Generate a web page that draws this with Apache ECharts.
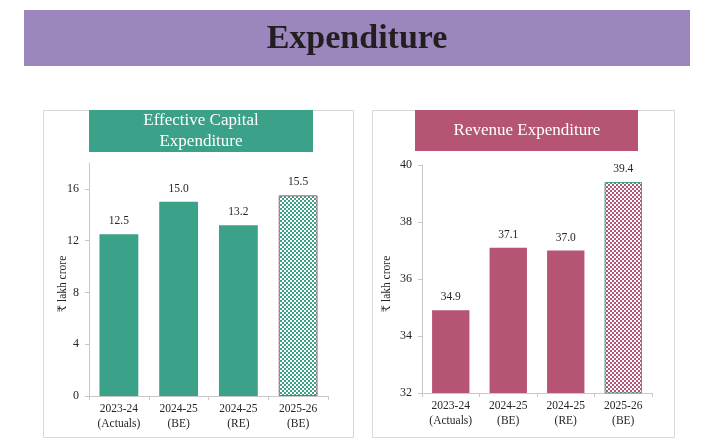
<!DOCTYPE html>
<html>
<head>
<meta charset="utf-8">
<script src="https://cdn.jsdelivr.net/npm/echarts@6/dist/echarts.min.js"></script>
<style>
html,body{margin:0;padding:0;background:#fff;}
#c{width:715px;height:448px;}
</style>
</head>
<body>
<div id="c"></div>
<script>
// ---- data ----
const categories = ['2023-24\n(Actuals)', '2024-25\n(BE)', '2024-25\n(RE)', '2025-26\n(BE)'];
const capexValues = [12.5, 15.0, 13.2, 15.5];
const revexValues = [34.9, 37.1, 37.0, 39.4];
const capexTicks = [0, 4, 8, 12, 16];
const revexTicks = [32, 34, 36, 38, 40];
const mainTitle = 'Expenditure';
const capexTitle = 'Effective Capital\nExpenditure';
const revexTitle = 'Revenue Expenditure';
const yName = '₹ lakh crore';

// ---- styles ----
const GREEN = '#3BA189';
const PINK = '#B55473';
const PURPLE = '#9B87BE';
const FONT = '"Liberation Serif", "DejaVu Serif", serif';
const TXT = '#262626';
const AXIS = '#C8C8C8';

function checker(c) {
  const cv = document.createElement('canvas');
  cv.width = 4; cv.height = 4;
  const ctx = cv.getContext('2d');
  ctx.fillStyle = '#ffffff';
  ctx.fillRect(0, 0, 4, 4);
  ctx.fillStyle = c;
  ctx.fillRect(0, 0, 2, 2);
  ctx.fillRect(2, 2, 2, 2);
  return cv;
}

function seriesData(values, color, altBorder) {
  return values.map((v, i) => {
    if (i === values.length - 1) {
      return {
        value: v,
        itemStyle: {
          color: { image: checker(color), repeat: 'repeat' },
          borderColor: altBorder, borderWidth: 1
        }
      };
    }
    return { value: v, itemStyle: { color: color } };
  });
}

function xAxis(gi) {
  return {
    type: 'category', gridIndex: gi, data: categories,
    axisLine: { lineStyle: { color: AXIS } },
    axisTick: { show: true, length: 4, lineStyle: { color: AXIS } },
    axisLabel: { interval: 0, color: TXT, fontFamily: FONT, fontSize: 11.5, lineHeight: 14.5, margin: 6 }
  };
}
function yAxis(gi, min, max, ticks) {
  return {
    type: 'value', gridIndex: gi, min: min, max: max,
    splitLine: { show: false },
    axisLine: { show: true, lineStyle: { color: AXIS } },
    axisTick: { show: true, length: 4, lineStyle: { color: AXIS }, customValues: ticks },
    axisLabel: { color: TXT, fontFamily: FONT, fontSize: 12, margin: 10, customValues: ticks }
  };
}
const labelStyle = {
  show: true, position: 'top', distance: 7,
  color: TXT, fontFamily: FONT, fontSize: 11.5,
  formatter: p => p.value.toFixed(1)
};

const chart = echarts.init(document.getElementById('c'));
chart.setOption({
  animation: false,
  backgroundColor: '#ffffff',
  graphic: [
    { type: 'rect', z: 0, shape: { x: 24, y: 10, width: 666, height: 56 }, style: { fill: PURPLE } },
    { type: 'text', z: 1, x: 357, y: 39, style: { text: mainTitle, fill: '#231F20', font: 'bold 34px ' + FONT, textAlign: 'center', textVerticalAlign: 'middle' } },
    { type: 'rect', z: 0, shape: { x: 43.5, y: 110.5, width: 310, height: 327 }, style: { fill: 'none', stroke: '#D9D9D9', lineWidth: 1 } },
    { type: 'rect', z: 0, shape: { x: 372.5, y: 110.5, width: 302, height: 327 }, style: { fill: 'none', stroke: '#D9D9D9', lineWidth: 1 } },
    { type: 'rect', z: 1, shape: { x: 89, y: 110, width: 224, height: 42 }, style: { fill: GREEN } },
    { type: 'text', z: 2, x: 201, y: 131.5, style: { text: capexTitle, fill: '#ffffff', font: '17px ' + FONT, lineHeight: 21, textAlign: 'center', textVerticalAlign: 'middle' } },
    { type: 'rect', z: 1, shape: { x: 415, y: 110, width: 223, height: 41 }, style: { fill: PINK } },
    { type: 'text', z: 2, x: 527, y: 131, style: { text: revexTitle, fill: '#ffffff', font: '17px ' + FONT, textAlign: 'center', textVerticalAlign: 'middle' } },
    { type: 'text', z: 2, x: 63, y: 284, rotation: Math.PI / 2, style: { text: yName, fill: TXT, font: '11.5px ' + FONT, textAlign: 'center', textVerticalAlign: 'middle' } },
    { type: 'text', z: 2, x: 387, y: 284, rotation: Math.PI / 2, style: { text: yName, fill: TXT, font: '11.5px ' + FONT, textAlign: 'center', textVerticalAlign: 'middle' } }
  ],
  grid: [
    { left: 89, top: 163, width: 239, height: 233 },
    { left: 422, top: 165, width: 230, height: 228 }
  ],
  xAxis: [xAxis(0), xAxis(1)],
  yAxis: [yAxis(0, 0, 18, capexTicks), yAxis(1, 32, 40, revexTicks)],
  series: [
    { type: 'bar', xAxisIndex: 0, yAxisIndex: 0, barWidth: '65%', data: seriesData(capexValues, GREEN, PINK), label: labelStyle },
    { type: 'bar', xAxisIndex: 1, yAxisIndex: 1, barWidth: '65%', data: seriesData(revexValues, PINK, GREEN), label: labelStyle }
  ]
});
</script>
</body>
</html>
